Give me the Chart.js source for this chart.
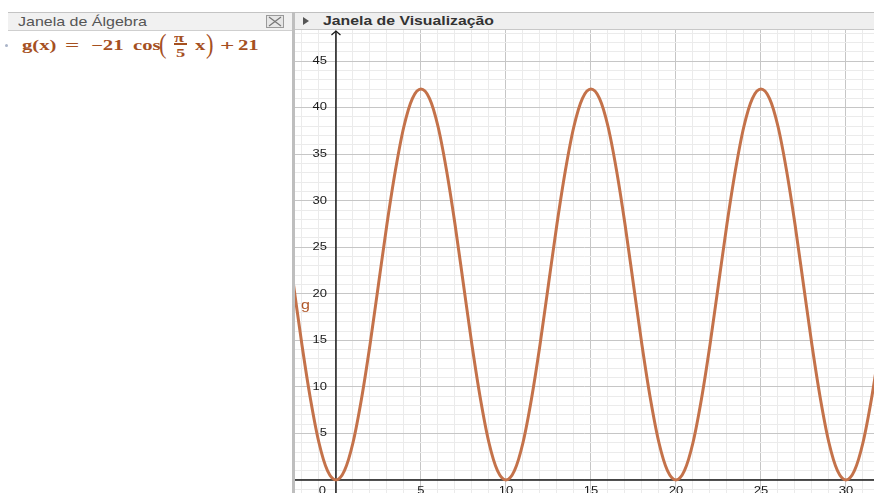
<!DOCTYPE html>
<html>
<head>
<meta charset="utf-8">
<title>Janela de Visualização</title>
<script src="https://cdn.jsdelivr.net/npm/chart.js@4.4.1/dist/chart.umd.min.js"></script>
<style>
  html, body { margin: 0; padding: 0; background: #fff; width: 874px; height: 493px; overflow: hidden; }
  body { position: relative; font-family: "Liberation Sans", Arial, sans-serif; }

  /* algebra panel */
  #algebra { position: absolute; left: 0; top: 12px; width: 292px; height: 481px; background: #fff; }
  #algebra .head { position: absolute; left: 8px; top: 0; width: 284px; height: 17px;
    background: #f1f1f1; border-top: 1px solid #c4c4c4; border-bottom: 1px solid #cfcfcf; }
  #algebra .head .title { position: absolute; left: 10px; top: 0; font-size: 16px; line-height: 17px;
    color: #555; transform: scaleY(0.8); transform-origin: 0 50%; white-space: nowrap; }
  #algebra .close { position: absolute; left: 258px; top: 2px; width: 16px; height: 11px;
    border: 1px solid #9a9a9a; background: #e6e6e6; }
  #algebra .close svg { position: absolute; left: 0; top: 0; }
  #divider { position: absolute; left: 292px; top: 12px; width: 3px; height: 481px; background: #bebebe; }

  /* formula row */
  .bullet { position: absolute; left: 5px; top: 44px; width: 3px; height: 3px; border-radius: 50%; background: #aab4c8; }
  .m { position: absolute; font-family: "Liberation Serif", "DejaVu Serif", serif; font-weight: bold;
    color: #a5501f; white-space: nowrap; line-height: 0; transform-origin: 0 0; }
  .main { font-size: 18px; transform: scale(1.15, 0.8); }
  .wide { font-size: 18px; transform: scale(1.4, 0.8); }
  .small { font-size: 16px; transform: scale(1.15, 0.8); }
  .paren { font-family: "Liberation Serif", serif; font-weight: normal; font-size: 30px; transform: scale(0.75, 0.9); }
  .bar { position: absolute; left: 174px; top: 43px; width: 13px; height: 1.5px; background: #a5501f; }

  /* graphics view */
  #graphics { position: absolute; left: 295px; top: 12px; width: 579px; height: 481px; }
  #graphics .head { position: absolute; left: 0; top: 0; width: 579px; height: 16px;
    background: #efefef; border-top: 1px solid #c0c0c0; border-bottom: 1px solid #c8c8c8; }
  #graphics .head .tri { position: absolute; left: 8px; top: 4px; width: 0; height: 0;
    border-left: 6px solid #555; border-top: 4px solid transparent; border-bottom: 4px solid transparent; }
  #graphics .head .title { position: absolute; left: 28px; top: 0; font-size: 15.8px; font-weight: bold; line-height: 16px;
    color: #333; transform: scaleY(0.82); transform-origin: 0 50%; white-space: nowrap; }
  #plot { position: absolute; left: 0; top: 18px; width: 579px; height: 463px; }
</style>
</head>
<body>

<div id="algebra">
  <div class="head">
    <span class="title">Janela de Álgebra</span>
    <div class="close">
      <svg width="16" height="11" viewBox="0 0 16 11"><path d="M2 1 L14 10 M14 1 L2 10" stroke="#777" stroke-width="1.2" fill="none"/></svg>
    </div>
  </div>
</div>
<div id="divider"></div>

<!-- g(x) = −21 cos(π/5 x) + 21 -->
<div class="bullet"></div>
<span class="m main" style="left:22px; top:45px;">g(x)</span>
<span class="m wide" style="left:65px; top:45px;">=</span>
<span class="m main" style="left:91px; top:45px;">−21</span>
<span class="m main" style="left:133px; top:45px;">cos</span>
<span class="m paren" style="left:159px; top:44px;">(</span>
<span class="m small" style="left:174px; top:38px;">π</span>
<div class="bar"></div>
<span class="m small" style="left:176px; top:53px;">5</span>
<span class="m main" style="left:195px; top:45px;">x</span>
<span class="m paren" style="left:206px; top:44px;">)</span>
<span class="m wide" style="left:220px; top:45px;">+</span>
<span class="m main" style="left:238px; top:45px;">21</span>

<div id="graphics">
  <div class="head">
    <div class="tri"></div>
    <span class="title">Janela de Visualização</span>
  </div>
  <div id="plot"><canvas id="graph" width="579" height="463"></canvas></div>
</div>

<script>
// sampled points of g along x
const xValues = [
  -2.5, -2, -1.5, -1, -0.5,
  0, 0.5, 1, 1.5, 2, 2.5, 3, 3.5, 4, 4.5, 5, 5.5, 6, 6.5, 7, 7.5, 8, 8.5, 9, 9.5,
  10, 10.5, 11, 11.5, 12, 12.5, 13, 13.5, 14, 14.5, 15, 15.5, 16, 16.5, 17, 17.5, 18, 18.5, 19, 19.5,
  20, 20.5, 21, 21.5, 22, 22.5, 23, 23.5, 24, 24.5, 25, 25.5, 26, 26.5, 27, 27.5, 28, 28.5, 29, 29.5,
  30, 30.5, 31, 31.5, 32
];
const gValues = [
  21, 14.5, 8.7, 4, 1,
  0, 1, 4, 8.7, 14.5, 21, 27.5, 33.3, 38, 41, 42, 41, 38, 33.3, 27.5, 21, 14.5, 8.7, 4, 1,
  0, 1, 4, 8.7, 14.5, 21, 27.5, 33.3, 38, 41, 42, 41, 38, 33.3, 27.5, 21, 14.5, 8.7, 4, 1,
  0, 1, 4, 8.7, 14.5, 21, 27.5, 33.3, 38, 41, 42, 41, 38, 33.3, 27.5, 21, 14.5, 8.7, 4, 1,
  0, 1, 4, 8.7, 14.5
];
const xTickLabels = [0, 5, 10, 15, 20, 25, 30];
const yTickLabels = [5, 10, 15, 20, 25, 30, 35, 40, 45];
const curveName = 'g';
const curveNameAt = { x: -1.8, y: 18.7 };

// view window
const X_MIN = -2.41, X_MAX = 31.65;
const Y_MIN = -1.4, Y_MAX = 48.34;

const CURVE_COLOR = 'rgb(196,114,74)';
const LABEL_COLOR = 'rgb(176,86,40)';
const TEXT_SQUASH = 0.8;

function squashedText(ctx, str, x, y, align, baseline) {
  ctx.save();
  ctx.translate(x, y);
  ctx.scale(1, TEXT_SQUASH);
  ctx.textAlign = align;
  ctx.textBaseline = baseline;
  ctx.fillText(str, 0, 0);
  ctx.restore();
}

// black axes, arrow on the y axis and the numbers along them
const axesPlugin = {
  id: 'axes',
  beforeDatasetsDraw(chart) {
    const { ctx, chartArea, scales } = chart;
    const x0 = scales.x.getPixelForValue(0);
    const y0 = scales.y.getPixelForValue(0);
    ctx.save();
    ctx.strokeStyle = '#1a1a1a';
    ctx.lineWidth = 1.5;
    ctx.beginPath();
    ctx.moveTo(chartArea.left, y0);
    ctx.lineTo(chartArea.right, y0);
    ctx.moveTo(x0, chartArea.top + 1);
    ctx.lineTo(x0, chartArea.bottom);
    ctx.stroke();
    ctx.lineWidth = 1.2;
    ctx.beginPath();
    ctx.moveTo(x0 - 4.5, chartArea.top + 5);
    ctx.lineTo(x0, chartArea.top + 1);
    ctx.lineTo(x0 + 4.5, chartArea.top + 5);
    ctx.stroke();

    ctx.fillStyle = '#1a1a1a';
    ctx.font = '13px "Liberation Sans", Arial, sans-serif';
    yTickLabels.forEach(v => {
      squashedText(ctx, String(v), x0 - 9, scales.y.getPixelForValue(v), 'right', 'middle');
    });
    xTickLabels.forEach(v => {
      const px = v === 0 ? x0 - 10 : scales.x.getPixelForValue(v);
      squashedText(ctx, String(v), px, y0 + 6, v === 0 ? 'right' : 'center', 'top');
    });
    ctx.restore();
  },
  afterDatasetsDraw(chart) {
    const { ctx, scales } = chart;
    ctx.save();
    ctx.fillStyle = LABEL_COLOR;
    ctx.font = '16px "Liberation Sans", Arial, sans-serif';
    squashedText(ctx, curveName, scales.x.getPixelForValue(curveNameAt.x), scales.y.getPixelForValue(curveNameAt.y), 'center', 'middle');
    ctx.restore();
  }
};

function gridColor(c) {
  if (!c.tick) return '#ebebeb';
  return c.tick.value % 5 === 0 ? '#c6c6c6' : '#ebebeb';
}

new Chart(document.getElementById('graph'), {
  type: 'scatter',
  data: {
    datasets: [{
      label: curveName,
      data: xValues.map((x, i) => ({ x: x, y: gValues[i] })),
      showLine: true,
      borderColor: CURVE_COLOR,
      borderWidth: 3,
      pointRadius: 0,
      cubicInterpolationMode: 'monotone',
      fill: false
    }]
  },
  options: {
    responsive: false,
    animation: false,
    events: [],
    layout: { padding: 0 },
    plugins: { legend: { display: false }, tooltip: { enabled: false } },
    scales: {
      x: {
        type: 'linear',
        min: X_MIN, max: X_MAX,
        ticks: { display: false, stepSize: 1, includeBounds: false },
        grid: { color: gridColor, lineWidth: 1, drawTicks: false },
        border: { display: false }
      },
      y: {
        type: 'linear',
        min: Y_MIN, max: Y_MAX,
        ticks: { display: false, stepSize: 1, includeBounds: false },
        grid: { color: gridColor, lineWidth: 1, drawTicks: false },
        border: { display: false }
      }
    }
  },
  plugins: [axesPlugin]
});
</script>
</body>
</html>
